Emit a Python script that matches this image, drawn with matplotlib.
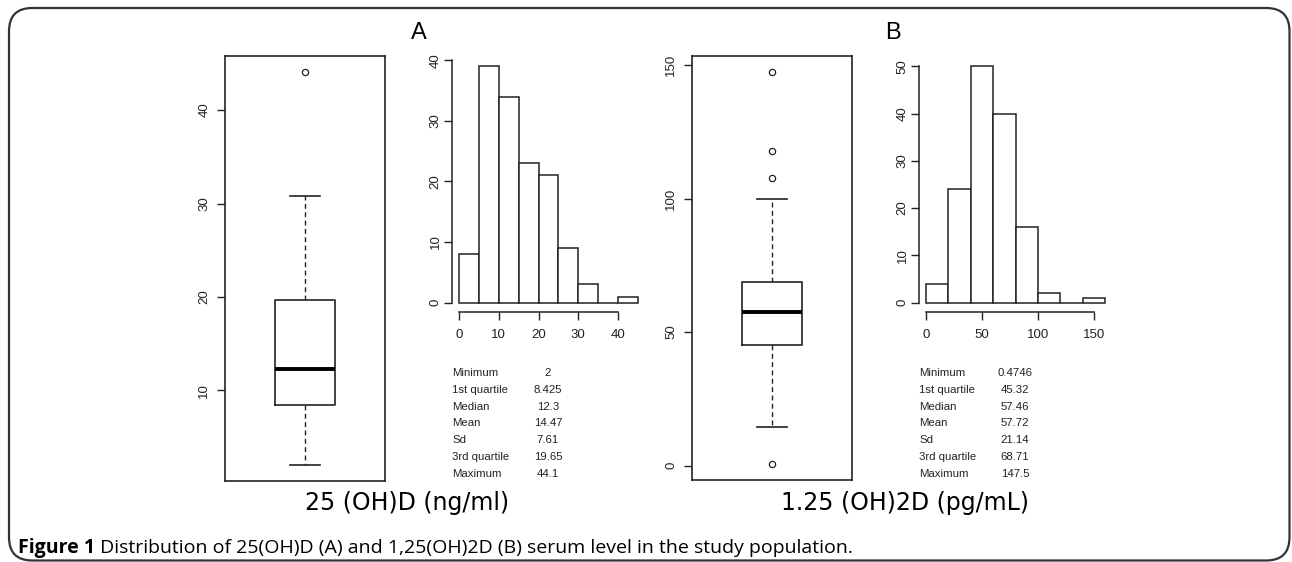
import matplotlib
matplotlib.use("Agg")
import matplotlib.pyplot as plt
from matplotlib.patches import FancyBboxPatch

W, H = 1292, 562

# ---- data ----
stat_names = ["Minimum", "1st quartile", "Median", "Mean", "Sd", "3rd quartile", "Maximum"]
stats_a = ["2", "8.425", "12.3", "14.47", "7.61", "19.65", "44.1"]
stats_b = ["0.4746", "45.32", "57.46", "57.72", "21.14", "68.71", "147.5"]

box_a = dict(whislo=2.0, q1=8.425, med=12.3, q3=19.65, whishi=30.8, fliers=[44.1])
box_b = dict(whislo=14.3, q1=45.32, med=57.46, q3=68.71, whishi=99.7,
             fliers=[0.4746, 107.8, 117.9, 147.5])

edges_a = [0, 5, 10, 15, 20, 25, 30, 35, 40, 45]
counts_a = [8, 39, 34, 23, 21, 9, 3, 0, 1]
edges_b = [0, 20, 40, 60, 80, 100, 120, 140, 160]
counts_b = [4, 24, 50, 40, 16, 2, 0, 1]

title_a = "25 (OH)D (ng/ml)"
title_b = "1.25 (OH)2D (pg/mL)"
caption_bold = "Figure 1"
caption_rest = " Distribution of 25(OH)D (A) and 1,25(OH)2D (B) serum level in the study population."

INK = "#222222"
TICKFONT = "Liberation Sans"


def rect(l, t, r, b):
    return [l / W, 1 - b / H, (r - l) / W, (b - t) / H]


def pad_range(lo, hi):
    # R's default 4% axis extension
    d = (hi - lo) * 0.04
    return lo - d, hi + d


def style_ticks(ax):
    ax.tick_params(direction="out", length=6, width=1, color=INK, labelcolor=INK,
                   labelsize=9.5, pad=3)
    for lab in ax.get_xticklabels() + ax.get_yticklabels():
        lab.set_fontfamily(TICKFONT)


def draw_box(ax, st, yticks):
    ax.bxp([st], positions=[1], widths=0.4, capwidths=[0.2], showfliers=True,
           boxprops=dict(color=INK, linewidth=1.2),
           medianprops=dict(color="black", linewidth=2.8),
           whiskerprops=dict(color=INK, linewidth=1.0, linestyle=(0, (3.5, 2.5))),
           capprops=dict(color=INK, linewidth=1.2),
           flierprops=dict(marker="o", markerfacecolor="none", markeredgecolor=INK,
                           markersize=4.5, markeredgewidth=0.9))
    lo = min([st["whislo"]] + st["fliers"])
    hi = max([st["whishi"]] + st["fliers"])
    ax.set_ylim(*pad_range(lo, hi))
    ax.set_xlim(0.46, 1.54)
    ax.set_xticks([])
    ax.set_yticks(yticks)
    ax.set_yticklabels([str(v) for v in yticks], rotation=90, va="center")
    for s in ax.spines.values():
        s.set_color(INK)
        s.set_linewidth(1.2)
    style_ticks(ax)
    ax.tick_params(axis="y", pad=4.5)


def draw_hist(ax, edges, counts, xticks, yticks):
    widths = [edges[i + 1] - edges[i] for i in range(len(counts))]
    ax.bar(edges[:-1], counts, width=widths, align="edge", facecolor="white",
           edgecolor=INK, linewidth=1.1)
    ax.set_xlim(*pad_range(edges[0], edges[-1]))
    ax.set_ylim(*pad_range(0, max(counts)))
    ax.set_xticks(xticks)
    ax.set_yticks(yticks)
    ax.set_yticklabels([str(v) for v in yticks], rotation=90, va="center")
    for side in ("top", "right"):
        ax.spines[side].set_visible(False)
    ax.spines["left"].set_bounds(yticks[0], yticks[-1])
    ax.spines["bottom"].set_bounds(xticks[0], xticks[-1])
    for side in ("left", "bottom"):
        ax.spines[side].set_color(INK)
        ax.spines[side].set_linewidth(1.1)
    style_ticks(ax)
    ax.tick_params(axis="y", pad=1.5)
    ax.tick_params(axis="x", pad=6)


def draw_table(fig, x_lab, x_val, values):
    for i, (name, val) in enumerate(zip(stat_names, values)):
        y = 1 - (373 + i * 16.8) / H
        fig.text(x_lab / W, y, name, ha="left", va="center", fontsize=8.2,
                 family=TICKFONT, color=INK)
        fig.text(x_val / W, y, val, ha="center", va="center", fontsize=8.2,
                 family=TICKFONT, color=INK)


fig = plt.figure(figsize=(W / 100, H / 100), dpi=100)

ax_ba = fig.add_axes(rect(225, 56, 385, 481))
draw_box(ax_ba, box_a, [10, 20, 30, 40])

ax_ha = fig.add_axes(rect(452, 57, 645, 312))
draw_hist(ax_ha, edges_a, counts_a, [0, 10, 20, 30, 40], [0, 10, 20, 30, 40])

ax_bb = fig.add_axes(rect(692, 56, 852, 480))
draw_box(ax_bb, box_b, [0, 50, 100, 150])

ax_hb = fig.add_axes(rect(919, 57, 1112, 312))
draw_hist(ax_hb, edges_b, counts_b, [0, 50, 100, 150], [0, 10, 20, 30, 40, 50])

draw_table(fig, 452, 548, stats_a)
draw_table(fig, 919, 1015, stats_b)

fig.text(419 / W, 1 - 33 / H, "A", ha="center", va="center", fontsize=17,
         family=TICKFONT, color="black")
fig.text(893 / W, 1 - 33 / H, "B", ha="center", va="center", fontsize=17,
         family=TICKFONT, color="black")

fig.text(407 / W, 1 - 503 / H, title_a, ha="center", va="center", fontsize=17,
         family="DejaVu Sans", color="black")
fig.text(905 / W, 1 - 503 / H, title_b, ha="center", va="center", fontsize=17,
         family="DejaVu Sans", color="black")

t = fig.text(18 / W, 1 - 548 / H, caption_bold, ha="left", va="center", fontsize=14,
             family="Open Sans", weight="bold", color="black")
fig.canvas.draw()
bb = t.get_window_extent()
fig.text(bb.x1 / W, 1 - 548 / H, caption_rest, ha="left", va="center", fontsize=14,
         family="Open Sans", color="black")

# rounded frame around the whole figure
frame = FancyBboxPatch((9 / W, 1 - 560.5 / H), 1280.5 / W, 552.5 / H,
                       boxstyle="round,pad=0,rounding_size=0.018",
                       transform=fig.transFigure, facecolor="none",
                       edgecolor="#333333", linewidth=1.6, mutation_aspect=W / H)
fig.patches.append(frame)

fig.savefig("out.png", dpi=100)
